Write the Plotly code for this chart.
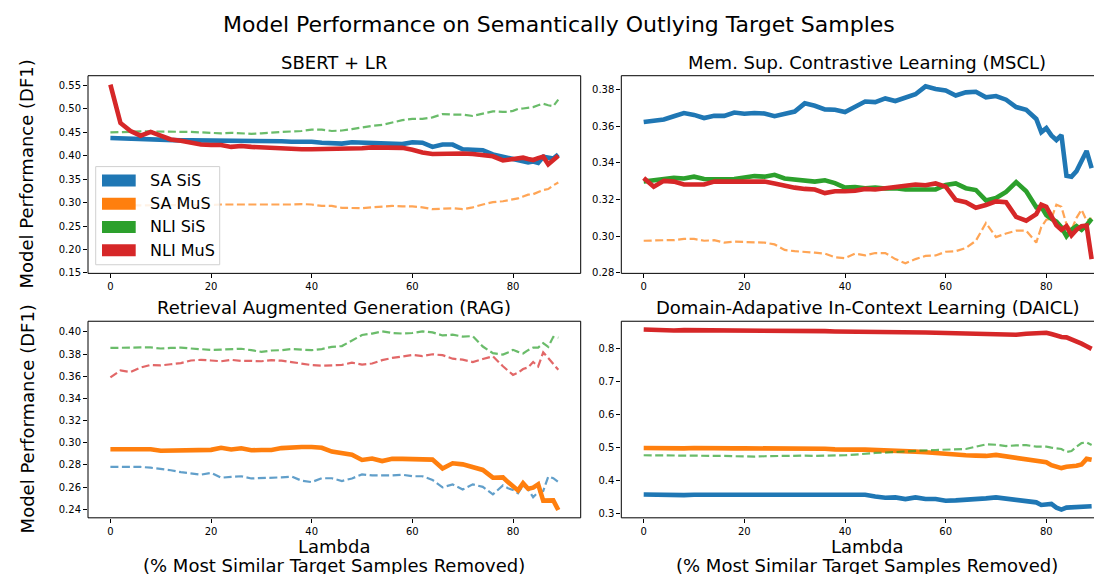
import plotly.graph_objects as go

W, H = 1102, 574

# ---------------- data ----------------
LAMBDA = list(range(0, 80, 2)) + list(range(79, 90))
SERIES = ["SA SiS", "SA MuS", "NLI SiS", "NLI MuS"]
COLORS = ["#1f77b4", "#ff7f0e", "#2ca02c", "#d62728"]
PANELS = ["SBERT + LR", "Mem. Sup. Contrastive Learning (MSCL)",
          "Retrieval Augmented Generation (RAG)", "Domain-Adapative In-Context Learning (DAICL)"]

sbert_sa_sis = [.438, .437, .436, .436, .435, .434, .434, .433, .433, .433,
                .432, .431, .431, .431, .432, .432, .431, .431, .430, .431,
                .430, .428, .427, .426, .429, .428, .427, .427, .426, .425,
                .429, .428, .419, .424, .424, .414, .413, .412, .403, .398,
                .397, .394, .393, .390, .386, .388, .385, .398, .396, .394, .403]
sbert_sa_mus = [.294, .294, .294, .294, .294, .294, .294, .294, .295, .295,
                .295, .296, .296, .296, .296, .296, .296, .295, .296, .297,
                .296, .293, .293, .289, .289, .288, .290, .292, .293, .292,
                .292, .290, .286, .287, .288, .286, .290, .296, .301, .303,
                .305, .308, .309, .313, .317, .318, .322, .327, .329, .337, .343]
sbert_nli_sis = [.450, .451, .452, .452, .452, .452, .452, .452, .451, .450,
                 .449, .448, .449, .448, .447, .448, .450, .451, .452, .453,
                 .456, .456, .453, .454, .457, .461, .464, .466, .471, .476,
                 .479, .479, .482, .489, .488, .488, .485, .490, .495, .494,
                 .494, .496, .500, .501, .503, .504, .508, .511, .508, .506, .520]
sbert_nli_mus = [.552, .470, .453, .443, .451, .443, .435, .432, .428, .424,
                 .423, .423, .419, .421, .419, .418, .416, .414, .415, .414,
                 .414, .414, .415, .415, .416, .416, .418, .417, .418, .417,
                 .413, .407, .404, .405, .405, .405, .404, .402, .399, .390,
                 .391, .393, .394, .396, .393, .391, .395, .398, .382, .390, .400]

mscl_sa_sis = [.3623, .3627, .3637, .3655, .3672, .3662, .3645, .3657, .3657, .3675,
               .3668, .3672, .3670, .3655, .3668, .3680, .3725, .3712, .3692, .3690,
               .3678, .3705, .3735, .3732, .3752, .3738, .3755, .3775, .3818, .3803,
               .3795, .3768, .3785, .3788, .3758, .3765, .3745, .3705, .3690, .3640,
               .3568, .3590, .3550, .3525, .3552, .3330, .3325, .3355, .3410, .3465, .3372]
mscl_sa_mus = [.2975, .2978, .2978, .2978, .2985, .2985, .2975, .2978, .2965, .2970,
               .2968, .2970, .2965, .2955, .2925, .2918, .2912, .2910, .2905, .2885,
               .2880, .2905, .2895, .2908, .2908, .2875, .2852, .2875, .2892, .2895,
               .2915, .2918, .2935, .2975, .3072, .2995, .3015, .3030, .3030, .2965,
               .3050, .3090, .3095, .3172, .3160, .3065, .3035, .3100, .3145, .3085, .3098]
mscl_nli_sis = [.3298, .3305, .3312, .3318, .3315, .3325, .3312, .3308, .3310, .3312,
                .3318, .3328, .3325, .3335, .3315, .3310, .3302, .3298, .3305, .3290,
                .3265, .3268, .3262, .3265, .3260, .3262, .3255, .3255, .3255, .3255,
                .3280, .3288, .3262, .3252, .3195, .3208, .3242, .3295, .3245, .3158,
                .3160, .3115, .3095, .3080, .3048, .3000, .3035, .3055, .3035, .3060, .3095]
mscl_nli_mus = [.3318, .3270, .3302, .3298, .3282, .3285, .3282, .3298, .3295, .3298,
                .3298, .3295, .3298, .3288, .3275, .3265, .3258, .3255, .3235, .3245,
                .3245, .3248, .3258, .3255, .3262, .3268, .3275, .3282, .3278, .3288,
                .3270, .3198, .3185, .3155, .3170, .3190, .3185, .3105, .3085, .3120,
                .3172, .3160, .3110, .3060, .3035, .3055, .3005, .3035, .3055, .3058, .2875]

rag_sa_sis = [.2782, .2784, .2785, .2782, .2775, .2765, .2752, .2735, .2722, .2712,
              .2728, .2685, .2692, .2698, .2678, .2680, .2688, .2688, .2695, .2658,
              .2645, .2680, .2680, .2655, .2678, .2715, .2705, .2702, .2705, .2712,
              .2698, .2698, .2665, .2598, .2625, .2578, .2625, .2602, .2535, .2615,
              .2590, .2575, .2545, .2615, .2582, .2508, .2555, .2565, .2695, .2680, .2645]
rag_sa_mus = [.2942, .2942, .2940, .2940, .2942, .2928, .2930, .2926, .2930, .2935,
              .2936, .2955, .2940, .2950, .2932, .2935, .2935, .2952, .2960, .2962,
              .2962, .2955, .2920, .2905, .2893, .2845, .2858, .2835, .2855, .2855,
              .2853, .2855, .2848, .2768, .2815, .2805, .2785, .2755, .2685, .2688,
              .2645, .2605, .2570, .2635, .2585, .2595, .2625, .2478, .2480, .2480, .2393]
rag_nli_sis = [.3855, .3858, .3862, .3860, .3860, .3850, .3855, .3858, .3850, .3845,
               .3838, .3840, .3842, .3848, .3835, .3820, .3832, .3835, .3845, .3838,
               .3835, .3845, .3865, .3872, .3920, .3972, .3985, .4005, .3990, .3985,
               .3990, .4005, .3995, .3968, .3975, .3958, .3962, .3868, .3808, .3795,
               .3815, .3838, .3820, .3805, .3835, .3858, .3858, .3898, .3865, .3955, .3948]
rag_nli_mus = [.3590, .3652, .3638, .3678, .3702, .3698, .3708, .3718, .3742, .3748,
               .3742, .3735, .3748, .3738, .3738, .3735, .3745, .3740, .3728, .3712,
               .3700, .3695, .3698, .3702, .3722, .3705, .3715, .3745, .3765, .3778,
               .3792, .3782, .3798, .3790, .3758, .3750, .3728, .3755, .3780, .3690,
               .3650, .3612, .3632, .3665, .3680, .3728, .3688, .3815, .3765, .3712, .3658]

daicl_sa_sis = [.358, .357, .355, .356, .356, .357, .357, .356, .356, .355,
                .356, .355, .354, .356, .357, .357, .356, .356, .356, .357,
                .354, .356, .357, .352, .348, .349, .344, .349, .344, .344,
                .339, .340, .341, .344, .346, .349, .346, .340, .338, .334,
                .326, .327, .329, .318, .312, .318, .319, .320, .323, .322, .322]
daicl_sa_mus = [.499, .498, .498, .498, .498, .499, .498, .498, .498, .498,
                .498, .498, .499, .498, .498, .498, .499, .497, .497, .495,
                .496, .494, .494, .493, .494, .490, .489, .488, .486, .483,
                .482, .477, .477, .476, .475, .478, .474, .468, .463, .462,
                .459, .456, .447, .443, .438, .442, .443, .445, .449, .466, .463]
daicl_nli_sis = [.477, .477, .477, .477, .477, .477, .477, .476, .475, .474,
                 .473, .473, .474, .475, .475, .475, .476, .475, .475, .475,
                 .477, .479, .482, .484, .485, .487, .490, .492, .492, .493,
                 .494, .495, .496, .503, .510, .509, .505, .507, .508, .503,
                 .503, .503, .500, .497, .496, .487, .490, .503, .514, .516, .508]
daicl_nli_mus = [.859, .857, .856, .856, .857, .857, .857, .856, .856, .856,
                 .856, .855, .855, .855, .855, .855, .854, .854, .854, .853,
                 .853, .852, .852, .852, .851, .851, .851, .850, .850, .849,
                 .848, .848, .848, .848, .846, .846, .845, .843, .846, .847,
                 .850, .849, .845, .840, .836, .835, .829, .824, .816, .808, .800]

PANEL_DATA = [
    [sbert_sa_sis, sbert_sa_mus, sbert_nli_sis, sbert_nli_mus],
    [mscl_sa_sis, mscl_sa_mus, mscl_nli_sis, mscl_nli_mus],
    [rag_sa_sis, rag_sa_mus, rag_nli_sis, rag_nli_mus],
    [daicl_sa_sis, daicl_sa_mus, daicl_nli_sis, daicl_nli_mus],
]
# which series is drawn solid (True) or dashed (False) in each panel
PANEL_SOLID = [
    [True, False, False, True],
    [True, False, True, True],
    [False, True, False, False],
    [True, True, False, True],
]
Y_TICKS = [
    [0.15, 0.20, 0.25, 0.30, 0.35, 0.40, 0.45, 0.50, 0.55],
    [0.28, 0.30, 0.32, 0.34, 0.36, 0.38],
    [0.24, 0.26, 0.28, 0.30, 0.32, 0.34, 0.36, 0.38, 0.40],
    [0.3, 0.4, 0.5, 0.6, 0.7, 0.8],
]
X_TICKS = [0, 20, 40, 60, 80]

# ---------------- layout geometry (pixels) ----------------
def fx(x):
    return x / W


def fy(y):
    return 1 - y / H


FONT = "DejaVu Sans"
GEOM = [
    dict(x=(80, 572.7), y=(68.3, 267.7), xr=[-4.45, 93.45], yr=[0.149, 0.571], fmt=".2f"),
    dict(x=(613.3, 1102), y=(68.3, 267.7), xr=[-4.45, 92.65], yr=[0.2797, 0.3876], fmt=".2f"),
    dict(x=(80, 572.7), y=(316, 514.3), xr=[-4.45, 93.45], yr=[0.2323, 0.4096], fmt=".2f"),
    dict(x=(613.3, 1102), y=(316, 514.3), xr=[-4.45, 92.65], yr=[0.287, 0.884], fmt=".1f"),
]

fig = go.Figure()
layout = dict(
    width=W, height=H,
    margin=dict(l=0, r=0, t=0, b=0),
    paper_bgcolor="white", plot_bgcolor="white",
    showlegend=False,
    font=dict(family=FONT, color="black"),
)
shapes = []
annotations = []

for i in range(4):
    g = GEOM[i]
    sfx = "" if i == 0 else str(i + 1)
    xa, ya = "x" + sfx, "y" + sfx
    for s in range(4):
        solid = PANEL_SOLID[i][s]
        fig.add_trace(go.Scatter(
            x=LAMBDA, y=PANEL_DATA[i][s], xaxis=xa, yaxis=ya, mode="lines",
            name=SERIES[s], opacity=1.0 if solid else 0.7,
            line=dict(color=COLORS[s], width=4.6 if solid else 2.2,
                      dash="solid" if solid else "8px,3.5px"),
            hoverinfo="skip",
        ))
    common = dict(showgrid=False, zeroline=False, showline=False, ticks="outside",
                  ticklen=4, tickwidth=1, tickcolor="black",
                  tickfont=dict(family=FONT, size=10, color="black"))
    layout["xaxis" + sfx] = dict(domain=[fx(g["x"][0]), fx(g["x"][1])], range=g["xr"],
                                 anchor=ya, tickvals=X_TICKS, **common)
    layout["yaxis" + sfx] = dict(domain=[fy(g["y"][1]), fy(g["y"][0])], range=g["yr"],
                                 anchor=xa, tickvals=Y_TICKS[i], tickformat=g["fmt"], **common)
    x1 = 1.0 if i in (0, 2) else 1.02
    shapes.append(dict(type="rect", xref=xa + " domain", yref=ya + " domain",
                       x0=0, x1=x1, y0=0, y1=1, line=dict(color="black", width=1),
                       fillcolor="rgba(0,0,0,0)", layer="above"))
    cx = (g["x"][0] + (572.7 if i in (0, 2) else 1105)) / 2
    ty = 55 if i < 2 else 302
    annotations.append(dict(text=PANELS[i], x=fx(cx), y=fy(ty), xref="paper", yref="paper",
                            xanchor="center", yanchor="middle", showarrow=False,
                            font=dict(family=FONT, size=18, color="black")))

# overall title
annotations.append(dict(text="Model Performance on Semantically Outlying Target Samples",
                        x=fx(551), y=fy(17), xref="paper", yref="paper",
                        xanchor="center", yanchor="middle", showarrow=False,
                        font=dict(family=FONT, size=22, color="black")))
# y labels
for cy in (168, 415):
    annotations.append(dict(text="Model Performance (DF1)", x=fx(19), y=fy(cy),
                            xref="paper", yref="paper", xanchor="center", yanchor="middle",
                            textangle=-90, showarrow=False,
                            font=dict(family=FONT, size=18, color="black")))
# x labels
for cx in (326.4, 859.2):
    annotations.append(dict(text="Lambda", x=fx(cx), y=fy(543), xref="paper", yref="paper",
                            xanchor="center", yanchor="middle", showarrow=False,
                            font=dict(family=FONT, size=18, color="black")))
    annotations.append(dict(text="(% Most Similar Target Samples Removed)", x=fx(cx), y=fy(562),
                            xref="paper", yref="paper", xanchor="center", yanchor="middle",
                            showarrow=False, font=dict(family=FONT, size=18, color="black")))

# legend (patch style) in first panel
shapes.append(dict(type="rect", xref="paper", yref="paper",
                   x0=fx(87.7), x1=fx(211.7), y0=fy(259), y1=fy(160),
                   line=dict(color="#d0d0d0", width=1), fillcolor="rgba(255,255,255,0.85)",
                   layer="above"))
for s in range(4):
    cy = 174 + s * 23.45
    shapes.append(dict(type="rect", xref="paper", yref="paper",
                       x0=fx(94), x1=fx(127.7), y0=fy(cy + 6), y1=fy(cy - 6),
                       line=dict(width=0), fillcolor=COLORS[s], layer="above"))
    annotations.append(dict(text=SERIES[s], x=fx(140), y=fy(cy), xref="paper", yref="paper",
                            xanchor="left", yanchor="middle", showarrow=False,
                            font=dict(family=FONT, size=16, color="black")))

layout["shapes"] = shapes
layout["annotations"] = annotations
fig.update_layout(**layout)
fig.write_html("out.html")
